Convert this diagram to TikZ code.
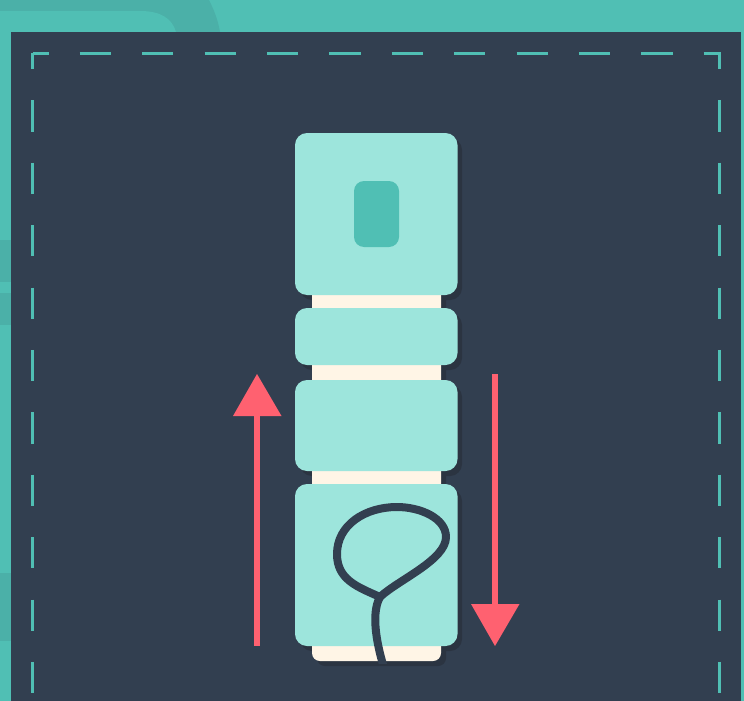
\documentclass[tikz,border=0pt]{standalone}
\definecolor{tealbase}{HTML}{50BFB4}
\definecolor{tealdark}{HTML}{4BB0A8}
\definecolor{navy}{HTML}{323F50}
\definecolor{navyshadow}{HTML}{2B3441}
\definecolor{mint}{HTML}{9DE5DC}
\definecolor{cream}{HTML}{FFF5E6}
\definecolor{coral}{HTML}{FF6170}
\tikzset{
  seam/.style={tealbase,line width=3pt,dash pattern=on 31.2pt off 31.2pt,dash phase=15.6pt},
  pad/.style={fill=mint,rounded corners=12pt},
  padshadow/.style={fill=navyshadow,rounded corners=12pt},
  flow/.style={fill=coral},
}
\begin{document}
\begin{tikzpicture}[x=1pt,y=-1pt]
\useasboundingbox (0,0) rectangle (744,701);
\fill[tealbase] (0,0) rectangle (744,701);
% background patches
\fill[tealdark] (0,0) -- (209,0) .. controls (214,10) and (218,20) .. (220,32) -- (0,32) -- cycle;
\fill[tealbase] (0,32) -- (0,11) -- (140,11) .. controls (160,11) and (172,18) .. (176,32) -- cycle;
\fill[tealdark] (0,240) rectangle (11,282);
\fill[tealdark] (0,293) rectangle (11,325);
\fill[tealdark] (0,573) rectangle (11,641);
% panel
\fill[navy] (11,32) rectangle (741,701);
% stitching
\draw[seam] (32.9,53.5) -- (721,53.5);
\draw[seam] (32.9,53.5) -- (32.9,701);
\draw[seam] (719.6,53.5) -- (719.6,701);
% shadows
\fill[navyshadow,rounded corners=8pt] (317,280) rectangle (446,666);
\fill[padshadow] (300,138) rectangle (462,300);
\fill[padshadow] (300,313) rectangle (462,370);
\fill[padshadow] (300,385) rectangle (462,476);
\fill[padshadow] (300,489) rectangle (462,651);
% strap
\fill[cream,rounded corners=8pt] (312,285) rectangle (441,661);
% pads
\fill[pad] (295,133) rectangle (457.5,295);
\fill[pad] (295,308) rectangle (457.5,365);
\fill[pad] (295,380) rectangle (457.5,471);
\fill[pad] (295,484) rectangle (457.5,646);
\fill[tealbase,rounded corners=10pt] (354,181) rectangle (399,247);
% loop
\begin{scope}
\clip (280,470) rectangle (470,663);
\draw[navy,line width=8pt,line join=round]
  (384,668) .. controls (378,648) and (370,615) .. (380,597)
  .. controls (398,580) and (446,560) .. (446,537)
  .. controls (446,518) and (420,507) .. (397,507)
  .. controls (365,507) and (337,525) .. (337,554)
  .. controls (337,580) and (358,587) .. (380,597);
\end{scope}
% arrows
\fill[flow] (254,646) rectangle (260,416);
\fill[flow] (233,416) -- (281.5,416) -- (257,374) -- cycle;
\fill[flow] (492,374) rectangle (498,604);
\fill[flow] (471,604) -- (519.5,604) -- (495,646) -- cycle;
\end{tikzpicture}
\end{document}
